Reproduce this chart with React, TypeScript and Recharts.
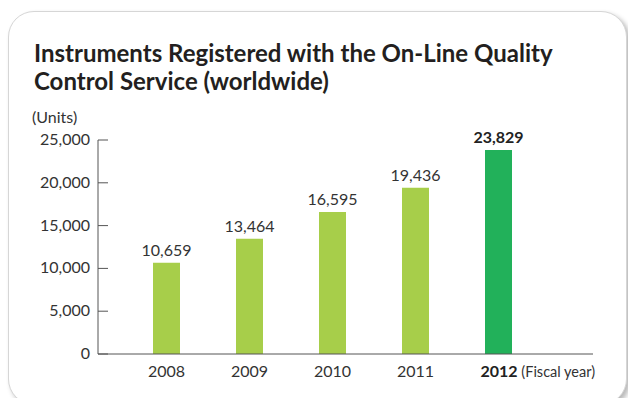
import React from 'react';
import { BarChart, Bar, XAxis, YAxis, Cell, LabelList } from 'recharts';

const years = ['2008', '2009', '2010', '2011', '2012'];
const instruments = [10659, 13464, 16595, 19436, 23829];
const yTicks = [0, 5000, 10000, 15000, 20000, 25000];

const LIGHT_GREEN = '#a7ce4a';
const DARK_GREEN = '#22b15a';
const TEXT = '#333';
const FONT = 'Lato, "Open Sans", sans-serif';

const data = years.map((year, i) => ({ year, value: instruments[i] }));
const latestYear = years[years.length - 1];

const fmt = (v: number) => v.toLocaleString('en-US');

// y ticks point inwards, so the tick line is drawn here with the label
const YTick = ({ x, y, payload }: any) => (
  <g>
    <line x1={x} y1={y} x2={x + 10} y2={y} stroke="#555" strokeWidth={1} />
    <text x={x - 8} y={y} dy={5} textAnchor="end" fontSize={16} fill={TEXT} fontFamily={FONT}>
      {fmt(payload.value)}
    </text>
  </g>
);

const XTick = ({ x, y, payload }: any) => {
  if (payload.value === latestYear) {
    return (
      <text x={x - 18} y={y} dy={5} fontSize={16} fill={TEXT} fontFamily={FONT}>
        <tspan fontWeight="bold" fill="#222">{payload.value}</tspan>
        <tspan fontSize={14.5}> (Fiscal year)</tspan>
      </text>
    );
  }
  return (
    <text x={x} y={y} dy={5} textAnchor="middle" fontSize={16} fill={TEXT} fontFamily={FONT}>
      {payload.value}
    </text>
  );
};

const ValueLabel = ({ x, y, width, value, index }: any) => {
  const latest = index === years.length - 1;
  return (
    <text
      x={x + width / 2}
      y={y - 7}
      textAnchor="middle"
      fontSize={16}
      fontWeight={latest ? 'bold' : 'normal'}
      fill={latest ? '#222' : TEXT}
      fontFamily={FONT}
    >
      {fmt(value)}
    </text>
  );
};

export default function App() {
  return (
    <div style={{ position: 'absolute', left: 0, top: 0, width: 628, height: 398, overflow: 'hidden', background: '#fff' }}>
      <div
        style={{
          position: 'absolute',
          left: 8,
          top: 11,
          width: 617,
          height: 392,
          borderRadius: 26,
          border: '1px solid #d6d6d6',
          boxShadow: '3px 3px 5px rgba(0,0,0,0.28)',
          background: '#fff',
        }}
      />
      <div
        style={{
          position: 'absolute',
          left: 34,
          top: 39,
          fontFamily: FONT,
          fontWeight: 'bold',
          fontSize: 24,
          lineHeight: '28px',
          color: '#231f20',
          whiteSpace: 'nowrap',
        }}
      >
        Instruments Registered with the On-Line Quality
        <br />
        Control Service (worldwide)
      </div>
      <div style={{ position: 'absolute', left: 32, top: 107, fontFamily: FONT, fontSize: 16, color: TEXT }}>
        (Units)
      </div>
      <div style={{ position: 'absolute', left: 0, top: 0 }}>
        <BarChart width={628} height={398} data={data} margin={{ top: 140, right: 35, bottom: 0, left: 0 }}>
          <XAxis
            dataKey="year"
            height={44}
            padding={{ left: 27, right: 53 }}
            axisLine={{ stroke: '#555' }}
            tickLine={false}
            tickSize={0}
            tickMargin={18}
            tick={<XTick />}
            interval={0}
          />
          <YAxis
            width={98}
            domain={[0, 25000]}
            ticks={yTicks}
            axisLine={{ stroke: '#555' }}
            tickLine={false}
            tickSize={0}
            tickMargin={0}
            tick={<YTick />}
            interval={0}
          />
          <Bar dataKey="value" barSize={27} isAnimationActive={false}>
            {data.map((d) => (
              <Cell key={d.year} fill={d.year === latestYear ? DARK_GREEN : LIGHT_GREEN} />
            ))}
            <LabelList dataKey="value" content={<ValueLabel />} />
          </Bar>
        </BarChart>
      </div>
    </div>
  );
}
